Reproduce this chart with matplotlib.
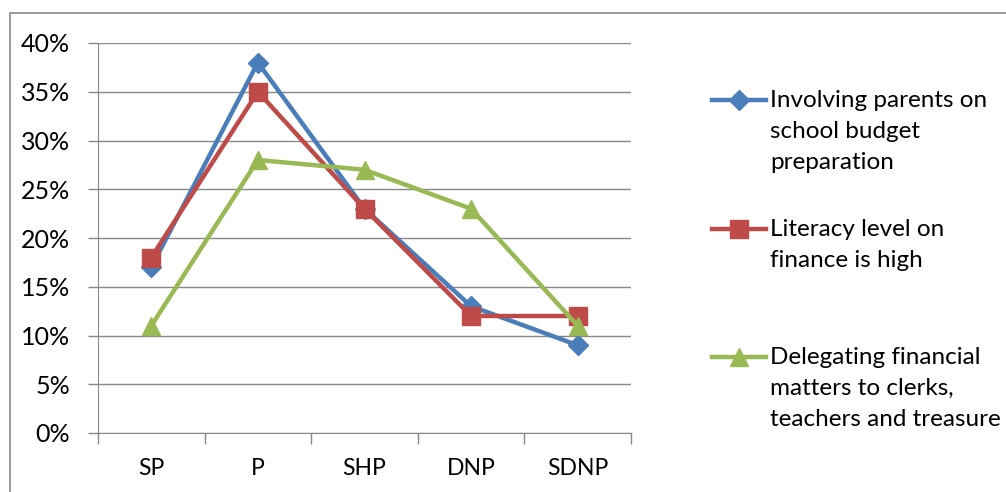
import matplotlib.pyplot as plt
from matplotlib.lines import Line2D
from matplotlib.patches import Rectangle
from matplotlib.ticker import PercentFormatter, MultipleLocator

categorias = ["SP", "P", "SHP", "DNP", "SDNP"]
involucrar_padres = [17, 38, 23, 13, 9]
alfabetizacion = [18, 35, 23, 12, 12]
delegar = [11, 28, 27, 23, 11]
series_nombres = [
    "Involving parents on\nschool budget\npreparation",
    "Literacy level on\nfinance is high",
    "Delegating financial\nmatters to clerks,\nteachers and treasure",
]

colores = ["#4A7EBB", "#BE4B48", "#98B954"]
marcadores = ["D", "s", "^"]
tamanos = [10, 12.5, 13]

plt.rcParams["font.family"] = ["Lato", "DejaVu Sans"]

fig = plt.figure(figsize=(10.06, 4.92), dpi=100)
W, H = 1006, 492
ax = fig.add_axes([98 / W, 1 - 433 / H, (631 - 98) / W, (433 - 43) / H])

# marco exterior del grafico
fig.patches.append(Rectangle((10 / W, -0.1), 1.2, 1 - 13 / H + 0.1,
                             transform=fig.transFigure, fill=False,
                             edgecolor="#888888", linewidth=1.2))

x = list(range(len(categorias)))
datos = [involucrar_padres, alfabetizacion, delegar]
for valores, c, m, s in zip(datos, colores, marcadores, tamanos):
    ax.plot(x, valores, color=c, marker=m, markersize=s, linewidth=3.2,
            markerfacecolor=c, markeredgecolor=c, clip_on=False, zorder=3)

ax.set_xlim(-0.5, len(categorias) - 0.5)
ax.set_ylim(0, 40)
ax.yaxis.set_major_locator(MultipleLocator(5))
ax.yaxis.set_major_formatter(PercentFormatter(decimals=0))
ax.set_xticks(x)
ax.set_xticklabels(categorias)
ax.set_xticks([i - 0.5 for i in range(len(categorias) + 1)], minor=True)
ax.tick_params(axis="x", which="major", length=0, pad=18, labelsize=16.5)
ax.tick_params(axis="x", which="minor", length=8, color="#888888", width=1)
ax.tick_params(axis="y", length=7, color="#888888", width=1, labelsize=18, pad=13)
ax.grid(axis="y", color="#888888", linewidth=1)
for lado in ["top", "right"]:
    ax.spines[lado].set_visible(False)
for lado in ["left", "bottom"]:
    ax.spines[lado].set_color("#888888")
ax.set_axisbelow(True)

# leyenda manual
ys = [100, 229, 357]
for nombre, c, m, s, yy in zip(series_nombres, colores, marcadores, tamanos, ys):
    yf = 1 - yy / H
    fig.add_artist(Line2D([712 / W, 766 / W], [yf, yf], color=c, linewidth=3.2,
                          transform=fig.transFigure))
    fig.add_artist(Line2D([739 / W], [yf], color=c, marker=m, markersize=s,
                          linestyle="none", transform=fig.transFigure))
    fig.text(770 / W, 1 - (yy - 10) / H, nombre, fontsize=17.5, va="top", ha="left",
             linespacing=1.58, transform=fig.transFigure)

fig.savefig("out.png", dpi=100)
